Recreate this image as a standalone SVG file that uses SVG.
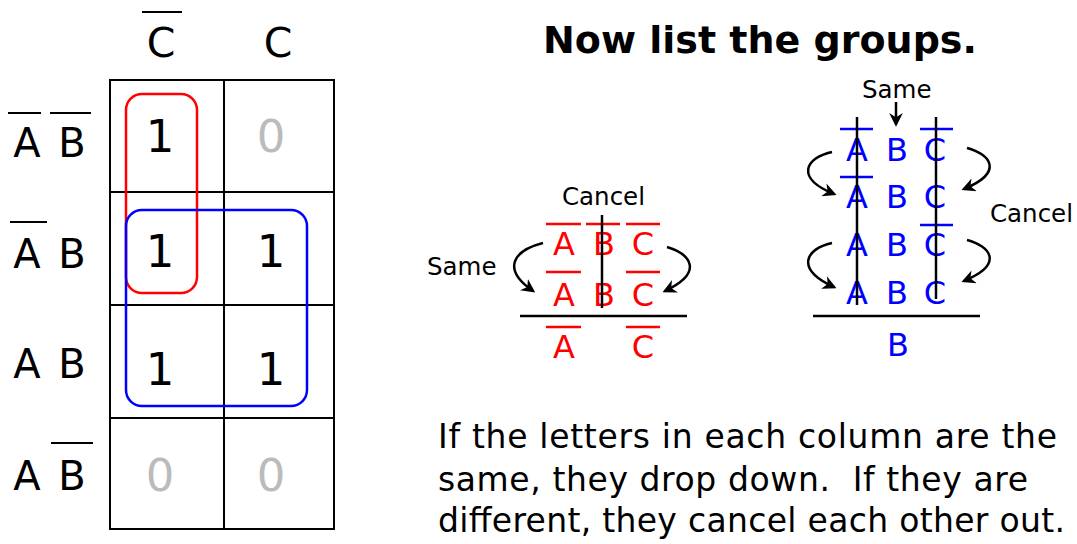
<svg xmlns="http://www.w3.org/2000/svg" width="1077" height="544" viewBox="0 0 1077 544">
<style>
text{font-family:"DejaVu Sans","Liberation Sans",sans-serif}
.lbl{font-size:40px;fill:#000;text-anchor:middle}
.dig{font-size:45px;text-anchor:middle}
.one{fill:#000}
.zero{fill:#bbbbbb}
.bar{stroke:#000;stroke-width:2}
.grid{stroke:#000;stroke-width:2;fill:none}
.r{font-size:32px;fill:#ff0000;text-anchor:middle}
.b{font-size:32px;fill:#0000ff;text-anchor:middle}
.rbar{stroke:#ff0000;stroke-width:2.5}
.bbar{stroke:#0000ff;stroke-width:2.5}
.ln{stroke:#000;stroke-width:2.5;fill:none}
.note{font-size:24.5px;fill:#000}
.arc{stroke:#000;stroke-width:2.5;fill:none;marker-end:url(#ah)}
.exp{font-size:33px;fill:#000;white-space:pre}
</style>
<defs>
<marker id="ah" viewBox="0 0 10 10" refX="8" refY="5" markerWidth="5.5" markerHeight="5.5" orient="auto" markerUnits="strokeWidth">
<path d="M0,0 L10,5 L0,10 L3,5 z" fill="#000"/>
</marker>
</defs>
<rect width="1077" height="544" fill="#fff"/>

<g id="kmap">
<rect class="grid" x="110" y="80" width="224" height="449"/>
<line class="grid" x1="224" y1="80" x2="224" y2="529"/>
<line class="grid" x1="110" y1="192" x2="334" y2="192"/>
<line class="grid" x1="110" y1="305" x2="334" y2="305"/>
<line class="grid" x1="110" y1="418" x2="334" y2="418"/>
</g>

<g id="col-headers">
<text class="lbl" x="161" y="57" style="font-size:41px">C</text>
<line class="bar" x1="142" y1="12" x2="182" y2="12"/>
<text class="lbl" x="278" y="57" style="font-size:41px">C</text>
</g>

<g id="row-labels">
<text class="lbl" x="27" y="157">A</text><text class="lbl" x="72" y="157">B</text>
<line class="bar" x1="8" y1="113" x2="41" y2="113"/>
<line class="bar" x1="50" y1="113" x2="91" y2="113"/>
<text class="lbl" x="27" y="268">A</text><text class="lbl" x="72" y="268">B</text>
<line class="bar" x1="10" y1="222" x2="47" y2="222"/>
<text class="lbl" x="27" y="378">A</text><text class="lbl" x="72" y="378">B</text>
<text class="lbl" x="27" y="490">A</text><text class="lbl" x="72" y="490">B</text>
<line class="bar" x1="51" y1="443" x2="93" y2="443"/>
</g>

<g id="cells">
<text class="dig one" x="160" y="152">1</text>
<text class="dig zero" x="271" y="152">0</text>
<text class="dig one" x="160" y="267">1</text>
<text class="dig one" x="271" y="267">1</text>
<text class="dig one" x="160" y="385">1</text>
<text class="dig one" x="271" y="385">1</text>
<text class="dig zero" x="160" y="491">0</text>
<text class="dig zero" x="271" y="491">0</text>
</g>

<g id="group-red">
<rect x="126" y="94" width="71" height="199" rx="16" fill="none" stroke="#ff0000" stroke-width="2.5"/>
</g>
<g id="group-blue">
<rect x="126" y="210" width="181" height="196" rx="16" fill="none" stroke="#0000ff" stroke-width="2.5"/>
</g>

<g id="title">
<text x="543" y="53" style="font-size:38px;font-weight:bold">Now list the groups.</text>
</g>

<g id="red-derivation">
<text class="note" x="562" y="205">Cancel</text>
<text class="note" x="427" y="275">Same</text>
<text class="r" x="564" y="255">A</text><text class="r" x="604" y="255">B</text><text class="r" x="643" y="255">C</text>
<line class="rbar" x1="546" y1="224" x2="581" y2="224"/>
<line class="rbar" x1="586" y1="224" x2="620" y2="224"/>
<line class="rbar" x1="626" y1="224" x2="660" y2="224"/>
<text class="r" x="564" y="306">A</text><text class="r" x="604" y="306">B</text><text class="r" x="643" y="306">C</text>
<line class="rbar" x1="546" y1="272" x2="581" y2="272"/>
<line class="rbar" x1="626" y1="272" x2="660" y2="272"/>
<text class="r" x="564" y="358">A</text><text class="r" x="643" y="358">C</text>
<line class="rbar" x1="546" y1="327" x2="581" y2="327"/>
<line class="rbar" x1="626" y1="327" x2="660" y2="327"/>
</g>

<g id="blue-derivation">
<text class="note" x="862" y="98">Same</text>
<text class="note" x="990" y="222">Cancel</text>
<text class="b" x="857" y="161">A</text><text class="b" x="897" y="161">B</text><text class="b" x="935" y="161">C</text>
<line class="bbar" x1="840" y1="129" x2="873" y2="129"/>
<line class="bbar" x1="920" y1="129" x2="953" y2="129"/>
<text class="b" x="857" y="208">A</text><text class="b" x="897" y="208">B</text><text class="b" x="935" y="208">C</text>
<line class="bbar" x1="840" y1="177" x2="873" y2="177"/>
<text class="b" x="857" y="256">A</text><text class="b" x="897" y="256">B</text><text class="b" x="935" y="256">C</text>
<line class="bbar" x1="920" y1="225" x2="953" y2="225"/>
<text class="b" x="857" y="304">A</text><text class="b" x="897" y="304">B</text><text class="b" x="935" y="304">C</text>
<text class="b" x="898" y="356">B</text>
</g>

<g id="connectors">
<line class="ln" x1="602" y1="215" x2="602" y2="308"/>
<line class="ln" x1="520" y1="316" x2="687" y2="316"/>
<path class="arc" d="M543,243 C515,250 500,268 533,291"/>
<path class="arc" d="M667,247 C690,254 705,272 665,291"/>
<line class="ln" x1="857" y1="117" x2="857" y2="305"/>
<line class="ln" x1="936" y1="117" x2="936" y2="299"/>
<line class="ln" x1="813" y1="316" x2="980" y2="316"/>
<line class="arc" x1="896" y1="102" x2="896" y2="124"/>
<path class="arc" d="M832,152 C805,158 795,178 834,194"/>
<path class="arc" d="M832,243 C805,249 795,269 834,287"/>
<path class="arc" d="M967,148 C990,154 1005,172 964,189"/>
<path class="arc" d="M967,240 C990,246 1005,264 964,281"/>
</g>

<g id="explanation">
<text class="exp" x="438" y="448" textLength="619">If the letters in each column are the</text>
<text class="exp" x="438" y="491" xml:space="preserve" textLength="590">same, they drop down.  If they are</text>
<text class="exp" x="438" y="532" textLength="627">different, they cancel each other out.</text>
</g>
</svg>
